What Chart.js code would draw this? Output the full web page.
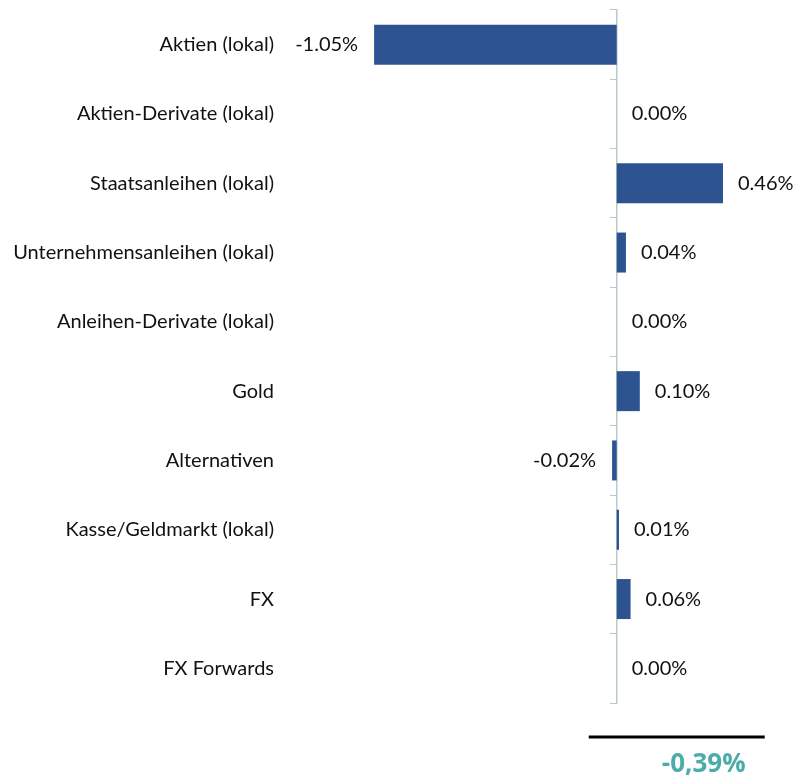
<!DOCTYPE html>
<html>
<head>
<meta charset="utf-8">
<script src="https://cdn.jsdelivr.net/npm/chart.js@4/dist/chart.umd.min.js"></script>
<style>
  html, body { margin: 0; padding: 0; background: #fff; }
  #wrap { width: 794px; height: 780px; position: relative; }
</style>
</head>
<body>
<div id="wrap"><canvas id="myChart"></canvas></div>
<script>
const categories = [
  'Aktien (lokal)',
  'Aktien-Derivate (lokal)',
  'Staatsanleihen (lokal)',
  'Unternehmensanleihen (lokal)',
  'Anleihen-Derivate (lokal)',
  'Gold',
  'Alternativen',
  'Kasse/Geldmarkt (lokal)',
  'FX',
  'FX Forwards'
];
const contributions = [-1.05, 0.00, 0.46, 0.04, 0.00, 0.10, -0.02, 0.01, 0.06, 0.00];
const totalLabel = '-0,39%';

const FONT = 'Lato, "Open Sans", sans-serif';

// value labels next to the bar ends
const valueLabels = {
  id: 'valueLabels',
  afterDatasetsDraw(chart) {
    const ctx = chart.ctx;
    const meta = chart.getDatasetMeta(0);
    ctx.save();
    ctx.font = '20px ' + FONT;
    ctx.fillStyle = '#111';
    ctx.textBaseline = 'middle';
    meta.data.forEach((bar, i) => {
      const v = contributions[i];
      const txt = v.toFixed(2) + '%';
      if (v < 0) {
        ctx.textAlign = 'right';
        ctx.fillText(txt, bar.x - 16, bar.y);
      } else {
        ctx.textAlign = 'left';
        ctx.fillText(txt, bar.x + 15, bar.y);
      }
    });
    ctx.restore();
  }
};

// sum line and total under the chart
const totalRow = {
  id: 'totalRow',
  afterDraw(chart) {
    const ctx = chart.ctx;
    const x0 = chart.scales.x.getPixelForValue(0);
    const bottom = chart.chartArea.bottom;
    ctx.save();
    ctx.strokeStyle = '#000';
    ctx.lineWidth = 3;
    ctx.beginPath();
    ctx.moveTo(x0 - 28, bottom + 34);
    ctx.lineTo(x0 + 148, bottom + 34);
    ctx.stroke();
    ctx.font = 'bold 26px "Open Sans", Lato, sans-serif';
    ctx.fillStyle = '#4BACAA';
    ctx.textAlign = 'center';
    ctx.textBaseline = 'middle';
    ctx.fillText(totalLabel, x0 + 87, bottom + 62);
    ctx.restore();
  }
};

const ctx = document.getElementById('myChart');

new Chart(ctx, {
  type: 'bar',
  data: {
    labels: categories,
    datasets: [{
      data: contributions,
      backgroundColor: '#2E5391',
      borderWidth: 0,
      inflateAmount: 0,
      barThickness: 40
    }]
  },
  options: {
    indexAxis: 'y',
    responsive: true,
    maintainAspectRatio: false,
    animation: false,
    layout: { padding: { top: 10, right: 4, bottom: 77, left: 0 } },
    plugins: {
      legend: { display: false },
      tooltip: { enabled: false }
    },
    scales: {
      x: {
        display: false,
        min: -1.44,
        max: 0.75
      },
      y: {
        grid: { display: false, drawTicks: false },
        border: { display: false },
        ticks: {
          color: '#111',
          padding: 10,
          font: { family: FONT, size: 20 }
        },
        afterFit(scale) {
          scale.width = 284;
          scale.paddingTop = 0;
          scale.paddingBottom = 0;
        }
      },
      // axis line at zero with tick marks between categories
      yZero: {
        type: 'category',
        position: { x: 0 },
        grid: {
          drawOnChartArea: false,
          drawTicks: true,
          tickLength: 6,
          offset: true,
          color: '#BCC9CC'
        },
        border: { display: true, color: '#BCC9CC', width: 1.5 },
        ticks: { display: false },
        afterFit(scale) {
          scale.width = 0;
          scale.paddingTop = 0;
          scale.paddingBottom = 0;
        }
      }
    }
  },
  plugins: [valueLabels, totalRow]
});
</script>
</body>
</html>
